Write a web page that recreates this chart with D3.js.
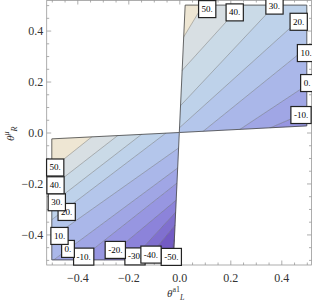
<!DOCTYPE html>
<html><head><meta charset="utf-8">
<script src="https://cdn.jsdelivr.net/npm/d3@7"></script>
<style>
body{margin:0;background:#fff;}
svg{display:block;font-family:"Liberation Serif","DejaVu Serif",serif;}
</style></head><body>
<div class="chart"></div>
<script>
// contour levels
const levels = [-50,-40,-30,-20,-10,0,10,20,30,40,50];

// regions where the function is defined (data coords)
const upperRegion = [[0,0],[0.023,0.5],[0.5,0.5],[0.5,0.026]];
const lowerRegion = [[0,0],[-0.5,-0.025],[-0.5,-0.5],[-0.023,-0.5]];

// contour lines, two points each
const upperLevels = [-10,0,10,20,30,40,50];
const upperLinePts = [
  [[0.500,0.080],[0.356,0.018]],
  [[0.500,0.186],[0.238,0.0125]],
  [[0.500,0.333],[0.0945,0.0055]],
  [[0.500,0.469],[0.004,0.0216]],
  [[0.375,0.500],[0.0184,0.120]],
  [[0.243,0.500],[0.0122,0.245]],
  [[0.093,0.500],[0.0169,0.3745]]
];
const lowerLevels = [-50,-40,-30,-20,-10,0,10,20,30,40,50];
const lowerLinePts = [
  [[-0.0176,-0.4098],[-0.0345,-0.502]],
  [[-0.0157,-0.3627],[-0.1306,-0.502]],
  [[-0.0133,-0.3118],[-0.1882,-0.502]],
  [[-0.0114,-0.2647],[-0.2953,-0.502]],
  [[-0.0082,-0.198],[-0.3933,-0.502]],
  [[-0.0063,-0.1392],[-0.4953,-0.502]],
  [[-0.0027,-0.0608],[-0.5012,-0.4137]],
  [[-0.0522,-0.002],[-0.5012,-0.3431]],
  [[-0.1463,-0.0059],[-0.5012,-0.2804]],
  [[-0.2404,-0.011],[-0.5012,-0.2137]],
  [[-0.3435,-0.0173],[-0.5012,-0.1431]]
];

// contour labels [level, x, y], in drawing order
const upperLabels = [[-10,0.4773,0.0686],[0,0.5008,0.1941],[10,0.4969,0.3118],[20,0.4682,0.4345],[30,0.3733,0.498],[40,0.2173,0.4714],[50,0.1094,0.4843]];
const lowerLabels = [[-30,-0.1737,-0.4863],[-50,-0.0314,-0.4882],[-40,-0.111,-0.4792],[-20,-0.251,-0.4608],[-10,-0.3749,-0.4871],[0,-0.4365,-0.4569],[10,-0.4698,-0.4059],[20,-0.4416,-0.3118],[30,-0.4804,-0.2737],[40,-0.4855,-0.2071],[50,-0.4867,-0.1373]];

const majorTicks = [-0.4,-0.2,0,0.2,0.4];
const tickLabels = ['\u22120.4','\u22120.2','0.0','0.2','0.4'];

const width = 312, height = 303;
const svg = d3.select('.chart').append('svg')
    .attr('width', width)
    .attr('height', height);

const x = d3.scaleLinear().domain([-0.52,0.52]).range([46.7,311.9]);
const y = d3.scaleLinear().domain([-0.52,0.52]).range([265,0]);

const bandColors = ['#6748b8','#735bc4','#8070cf','#8c83da','#9796e1','#a0a6e5','#aab7e9','#b4c6eb','#bed2ea','#cadae7','#d8dfe3','#eee6d3'];
const color = d3.scaleThreshold().domain(levels).range(bandColors);

// keep the part of poly on the high (top-left) or low side of a line
function clipHalf(poly, p1, p2, keepHigh){
  const dx = p2[0]-p1[0], dy = p2[1]-p1[1];
  const s = Math.sign(dx+dy) * (keepHigh ? 1 : -1);
  const side = p => (dx*(p[1]-p1[1]) - dy*(p[0]-p1[0])) * s;
  const out = [];
  for (let i=0;i<poly.length;i++){
    const a = poly[i], b = poly[(i+1)%poly.length];
    const sa = side(a), sb = side(b);
    if (sa >= 0) out.push(a);
    if ((sa >= 0) !== (sb >= 0)) {
      const t = sa/(sa-sb);
      out.push([a[0]+t*(b[0]-a[0]), a[1]+t*(b[1]-a[1])]);
    }
  }
  return out;
}

const line = d3.line().x(d=>x(d[0])).y(d=>y(d[1]));

function drawRegion(region, lvls, pts, id){
  const g = svg.append('g');
  const bands = [];
  for (let i=0;i<=lvls.length;i++){
    let poly = region.slice();
    if (i>0) poly = clipHalf(poly, pts[i-1][0], pts[i-1][1], true);
    if (i<lvls.length) poly = clipHalf(poly, pts[i][0], pts[i][1], false);
    const v = i==0 ? lvls[0]-5 : (i==lvls.length ? lvls[i-1]+5 : (lvls[i-1]+lvls[i])/2);
    if (poly.length>2) bands.push({poly, v});
  }
  g.selectAll('path.band')
    .data(bands)
    .enter()
    .append('path')
    .attr('class','band')
    .attr('d', d=>line(d.poly)+'Z')
    .attr('fill', d=>color(d.v))
    .attr('stroke', d=>color(d.v))
    .attr('stroke-width', 0.3);

  svg.append('clipPath').attr('id', id)
    .append('path').attr('d', line(region)+'Z');

  g.selectAll('line.ct')
    .data(pts)
    .enter()
    .append('line')
    .attr('class','ct')
    .attr('clip-path', 'url(#'+id+')')
    .attr('x1', d=>x(d[0][0]+(d[0][0]-d[1][0])*0.5))
    .attr('y1', d=>y(d[0][1]+(d[0][1]-d[1][1])*0.5))
    .attr('x2', d=>x(d[1][0]+(d[1][0]-d[0][0])*0.5))
    .attr('y2', d=>y(d[1][1]+(d[1][1]-d[0][1])*0.5))
    .attr('stroke', '#555')
    .attr('stroke-opacity', 0.55)
    .attr('stroke-width', 0.7);

  g.append('path')
    .attr('d', line(region)+'Z')
    .attr('fill','none')
    .attr('stroke','#444')
    .attr('stroke-width',0.8);
}

drawRegion(upperRegion, upperLevels, upperLinePts, 'clipU');
drawRegion(lowerRegion, lowerLevels, lowerLinePts, 'clipL');

// frame + ticks
const frame = svg.append('g');
function addAxis(axis, tx, ty, size, vals, labels){
  const a = axis.tickValues(vals).tickSizeInner(size).tickSizeOuter(0)
    .tickFormat((d,i)=> labels ? labels[i] : '');
  const g = frame.append('g').attr('transform', `translate(${tx},${ty})`).call(a);
  g.select('.domain').remove();
  g.selectAll('line').attr('stroke','#999').attr('stroke-width',0.8);
  g.selectAll('text').attr('font-family','"Liberation Serif",serif').attr('font-size',12).attr('fill','#333');
  return g;
}
const minorTicks = d3.range(-0.5,0.5001,0.05).filter(v=>!majorTicks.some(m=>Math.abs(m-v)<1e-6));
addAxis(d3.axisBottom(x), 0, 265, -4.5, majorTicks, tickLabels).call(g=>g.selectAll('.tick').each(function(){ d3.select(this).select('text').attr('y',8); }));
addAxis(d3.axisBottom(x), 0, 265, -2.5, minorTicks, null);
addAxis(d3.axisTop(x), 0, 0, -4.5, majorTicks, null);
addAxis(d3.axisTop(x), 0, 0, -2.5, minorTicks, null);
addAxis(d3.axisLeft(y), 46.7, 0, -4.5, majorTicks, tickLabels).selectAll('text').attr('x',-3.5);
addAxis(d3.axisLeft(y), 46.7, 0, -2.5, minorTicks, null);
addAxis(d3.axisRight(y), 311.5, 0, -4.5, majorTicks, null);
addAxis(d3.axisRight(y), 311.5, 0, -2.5, minorTicks, null);

frame.append('rect')
  .attr('x',46.7).attr('y',0.5)
  .attr('width',311.5-46.7).attr('height',264.5)
  .attr('fill','none').attr('stroke','#999').attr('stroke-width',0.8);

// contour labels
function drawLabels(labels){
  const g = svg.append('g').selectAll('g')
    .data(labels)
    .enter()
    .append('g')
    .attr('transform', d=>`translate(${x(d[1])},${y(d[2])})`);
  g.append('text')
    .attr('text-anchor','middle')
    .attr('dy','0.33em')
    .attr('font-size',9)
    .attr('fill','#000')
    .text(d=>d[0]+'.');
  g.each(function(){
    const t = d3.select(this).select('text');
    const w = t.node().getComputedTextLength() + 6;
    d3.select(this).insert('rect','text')
      .attr('x',-w/2).attr('y',-8.5)
      .attr('width',w).attr('height',17)
      .attr('fill','#fff')
      .attr('stroke','#222')
      .attr('stroke-width',1.2);
  });
}
drawLabels(upperLabels);
drawLabels(lowerLabels);

// axis titles
const xt = svg.append('text').attr('x',167).attr('y',297).attr('font-size',11).attr('fill','#333');
xt.append('tspan').attr('font-style','italic').text('\u03b8');
xt.append('tspan').attr('font-size',8).attr('dy',-5).text('a1');
xt.append('tspan').attr('font-size',8).attr('dy',8).attr('font-style','italic').text('L');

const yt = svg.append('text').attr('transform','translate(13.5,141) rotate(-90)').attr('font-size',11).attr('fill','#333');
yt.append('tspan').attr('font-style','italic').text('\u03b8');
yt.append('tspan').attr('font-size',8).attr('dy',-5).attr('font-style','italic').text('\u03bc');
yt.append('tspan').attr('font-size',8).attr('dy',8).attr('font-style','italic').text('R');
</script>
</body></html>
